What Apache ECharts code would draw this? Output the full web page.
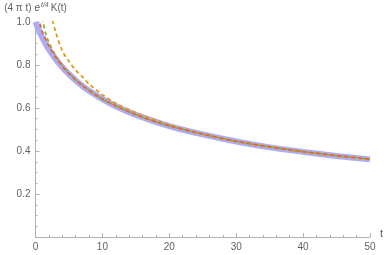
<!DOCTYPE html>
<html>
<head>
<meta charset="utf-8">
<script src="https://cdn.jsdelivr.net/npm/echarts@6/dist/echarts.min.js"></script>
<style>html,body{margin:0;padding:0;background:#fff}#c{width:389px;height:255px}</style>
</head>
<body>
<div id="c"></div>
<script>
// Data
var xTicks = [0, 10, 20, 30, 40, 50];
var yTicks = [0.2, 0.4, 0.6, 0.8, 1.0];

var tExact = [0, 0.25, 0.5, 1, 1.5, 2, 3, 4, 5, 6, 7, 8, 10, 12, 15, 20, 25, 30, 35, 40, 45, 50];
var exact  = [1, 0.980, 0.962, 0.928, 0.899, 0.873, 0.828, 0.790, 0.757, 0.728, 0.703, 0.680, 0.641, 0.608, 0.568, 0.516, 0.477, 0.444, 0.417, 0.396, 0.377, 0.361];

var tOrange = [2.3, 3, 4, 5, 6, 7, 8, 10, 12, 15, 20, 25, 30, 40, 50];
var orange  = [1.04, 0.955, 0.866, 0.817, 0.776, 0.745, 0.712, 0.662, 0.622, 0.579, 0.522, 0.479, 0.445, 0.396, 0.361];

var tGreen = [1.0, 1.5, 2, 3, 4, 5, 7, 10, 15, 20, 30, 40, 50];
var green  = [1.02, 0.95, 0.905, 0.845, 0.800, 0.762, 0.706, 0.642, 0.569, 0.517, 0.445, 0.397, 0.362];

var tRed = [0.5, 1, 1.5, 2, 3, 4, 5, 7, 10, 15, 20, 30, 40, 50];
var red  = [1.01, 0.958, 0.920, 0.888, 0.836, 0.795, 0.760, 0.705, 0.642, 0.569, 0.517, 0.445, 0.397, 0.362];

function pairs(xs, ys) { return xs.map(function (x, i) { return [x, ys[i]]; }); }

var chart = echarts.init(document.getElementById('c'), null, { renderer: 'canvas' });
var axisColor = '#b0b0b0';
var labelColor = '#606060';
var fontFam = 'Liberation Sans, Arial, sans-serif';

chart.setOption({
  animation: false,
  grid: { left: 35.5, right: 19, top: 22, bottom: 18, containLabel: false },
  xAxis: {
    type: 'value', min: 0, max: 50, interval: 10,
    name: 't', nameLocation: 'end', nameGap: 10,
    nameTextStyle: { color: labelColor, fontSize: 11, fontFamily: fontFam, verticalAlign: 'bottom', padding: [0, 0, -2, 0] },
    axisLine: { show: true, lineStyle: { color: axisColor, width: 1 } },
    axisTick: { show: true, inside: true, length: 4, lineStyle: { color: axisColor } },
    minorTick: { show: true, splitNumber: 5, length: 2, lineStyle: { color: axisColor } },
    splitLine: { show: false },
    axisLabel: { color: labelColor, fontSize: 10, fontFamily: fontFam, margin: 5,
      customValues: xTicks, formatter: function (v) { return String(v); } }
  },
  yAxis: {
    type: 'value', min: 0, max: 1, interval: 0.2,
    name: '{n|(4 π t) }{i|e}{s|t/4}{n|K(t)}', nameLocation: 'end', nameGap: 7,
    nameTextStyle: {
      align: 'center', verticalAlign: 'bottom',
      rich: {
        n: { color: labelColor, fontSize: 10, fontFamily: fontFam },
        i: { color: labelColor, fontSize: 10, fontFamily: fontFam, fontStyle: 'italic' },
        s: { color: labelColor, fontSize: 7, fontFamily: fontFam, fontStyle: 'italic', verticalAlign: 'top', padding: [0, 2, 6, 1] }
      }
    },
    axisLine: { show: true, lineStyle: { color: axisColor, width: 1 } },
    axisTick: { show: true, inside: true, length: 4, lineStyle: { color: axisColor } },
    minorTick: { show: true, splitNumber: 4, length: 2, lineStyle: { color: axisColor } },
    splitLine: { show: false },
    axisLabel: { color: labelColor, fontSize: 10, fontFamily: fontFam, margin: 5,
      customValues: yTicks, formatter: function (v) { return v.toFixed(1); } }
  },
  series: [
    { type: 'line', data: pairs(tExact, exact), showSymbol: false, smooth: 0.3, clip: true,
      lineStyle: { color: '#acacf6', width: 6, cap: 'butt' }, z: 1 },
    { type: 'line', data: pairs(tOrange, orange), showSymbol: false, smooth: 0.3, clip: true,
      lineStyle: { color: '#E19C24', width: 1.8, type: [4, 3] }, z: 2 },
    { type: 'line', data: pairs(tGreen, green), showSymbol: false, smooth: 0.3, clip: true,
      lineStyle: { color: '#8FB032', width: 1.8, type: [4, 3] }, z: 3 },
    { type: 'line', data: pairs(tRed, red), showSymbol: false, smooth: 0.3, clip: true,
      lineStyle: { color: '#EB6235', width: 1.8, type: [4, 3], dashOffset: 3 }, z: 4 }
  ]
});
</script>
</body>
</html>
